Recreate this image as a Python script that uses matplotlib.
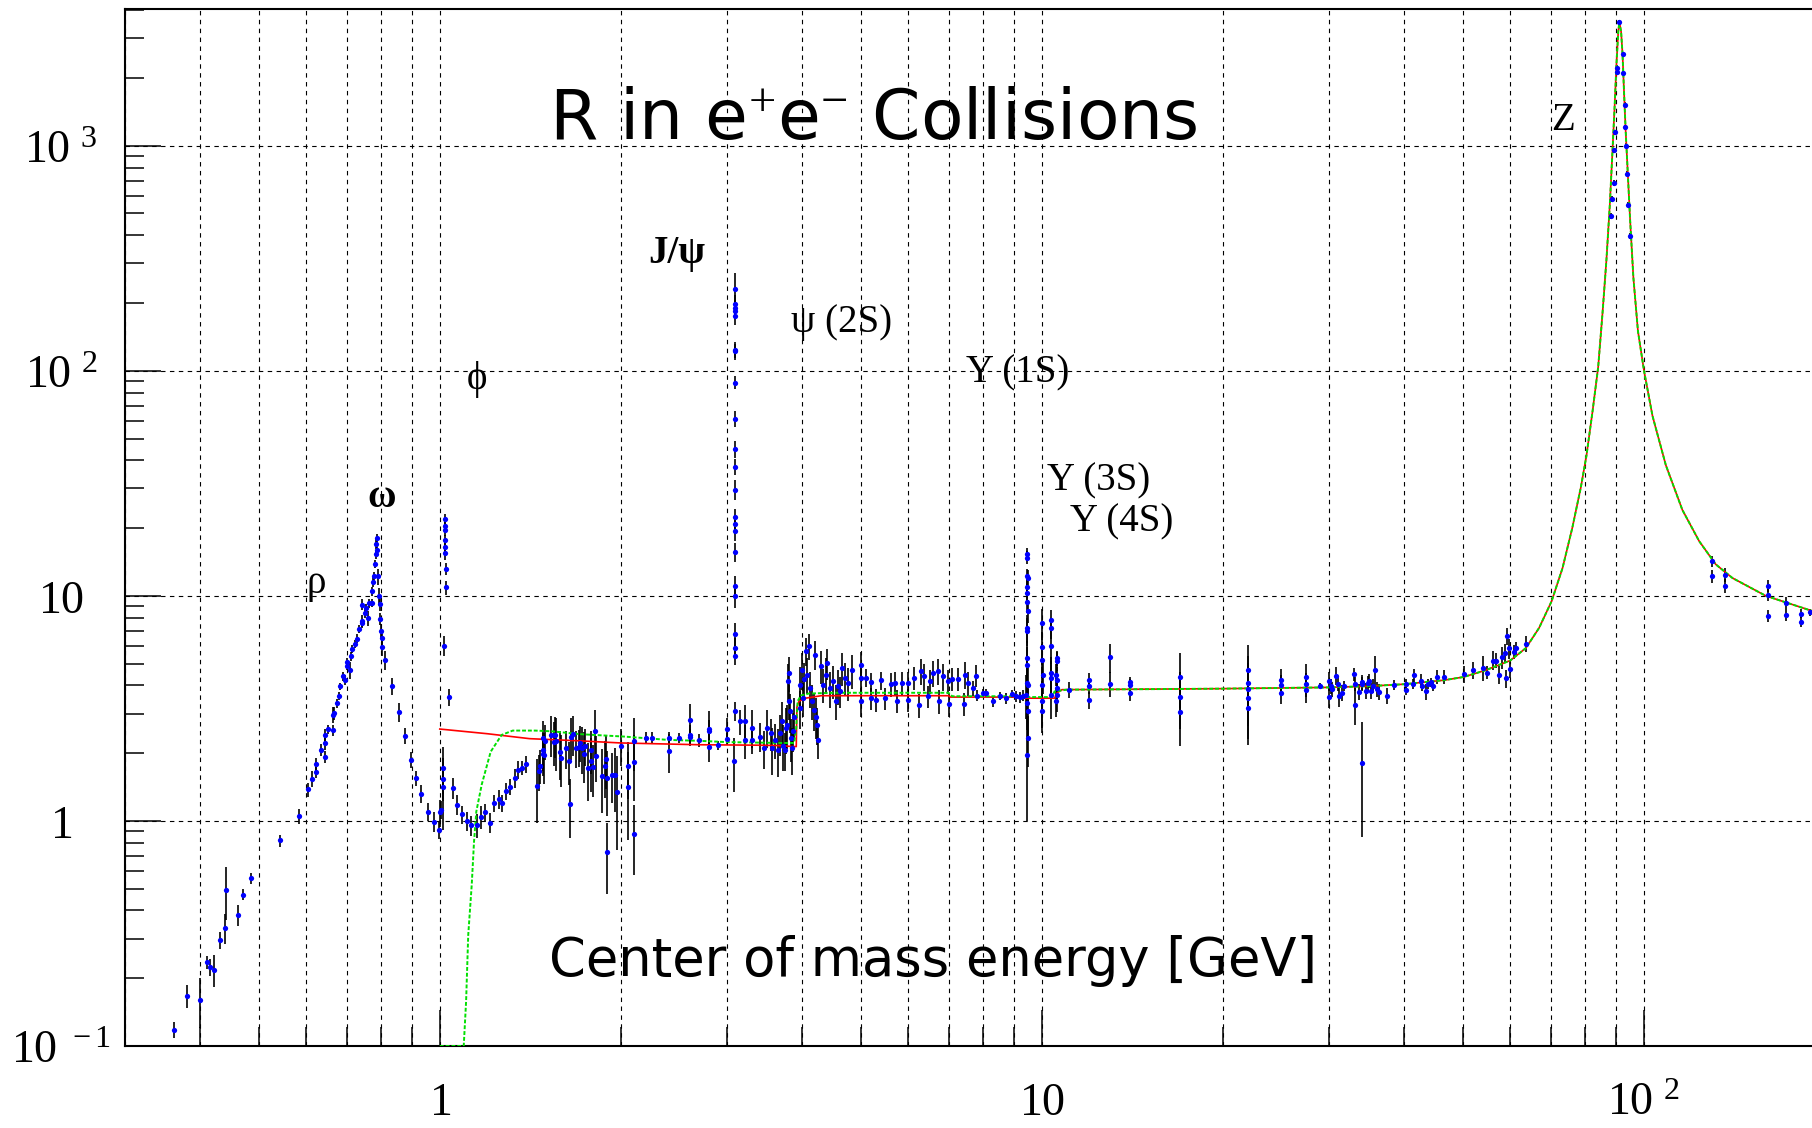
import matplotlib
matplotlib.use("Agg")
import matplotlib.pyplot as plt
import numpy as np
from matplotlib.ticker import FixedLocator, FixedFormatter, LogLocator, NullFormatter

# -----------------------------
# Data: (E [GeV], R, error on R)
# -----------------------------
rho_pts = [
    (0.362, 0.118, 0.01), (0.381, 0.167, 0.02), (0.400, 0.160, 0.04), (0.411, 0.235, 0.015),
    (0.416, 0.224, 0.02), (0.422, 0.218, 0.035), (0.432, 0.296, 0.025), (0.440, 0.334, 0.05),
    (0.441, 0.492, 0.13), (0.462, 0.382, 0.04), (0.471, 0.471, 0.025), (0.486, 0.556, 0.03),
    (0.543, 0.819, 0.05), (0.583, 1.05, 0.08), (0.605, 1.38, 0.1), (0.613, 1.54, 0.12),
    (0.623, 1.65, 0.1), (0.623, 1.79, 0.12), (0.634, 2.07, 0.12), (0.644, 1.93, 0.12),
    (0.644, 2.21, 0.15), (0.644, 2.41, 0.15), (0.652, 2.56, 0.12), (0.664, 2.53, 0.15),
    (0.664, 2.97, 0.25), (0.667, 3.02, 0.2), (0.675, 3.33, 0.15), (0.681, 3.60, 0.15),
    (0.683, 3.97, 0.15), (0.691, 4.39, 0.2), (0.695, 4.23, 0.2), (0.701, 4.89, 0.2),
    (0.702, 5.10, 0.2), (0.709, 4.66, 0.4), (0.712, 5.39, 0.25), (0.716, 5.80, 0.25),
    (0.722, 6.11, 0.25), (0.730, 6.45, 0.3), (0.733, 7.14, 0.3), (0.742, 7.72, 0.5),
    (0.744, 7.55, 0.3), (0.743, 9.14, 0.5), (0.751, 8.35, 0.4), (0.754, 8.83, 0.4),
    (0.761, 7.94, 0.6), (0.763, 9.25, 0.4), (0.771, 9.31, 0.4), (0.773, 10.5, 0.5),
    (0.776, 11.5, 0.6), (0.778, 12.2, 0.6), (0.780, 13.9, 0.6), (0.783, 15.3, 0.7),
    (0.785, 17.0, 0.8), (0.786, 18.0, 0.8), (0.788, 16.0, 0.8), (0.790, 12.2, 1.0),
    (0.793, 10.0, 0.8), (0.795, 9.2, 0.6), (0.797, 7.9, 0.5), (0.799, 7.0, 0.5),
    (0.801, 6.5, 0.5), (0.803, 5.9, 0.5), (0.812, 5.2, 0.5), (0.833, 3.97, 0.35),
    (0.855, 3.05, 0.3), (0.874, 2.39, 0.2), (0.895, 1.87, 0.15), (0.913, 1.55, 0.12),
    (0.932, 1.32, 0.12), (0.956, 1.10, 0.1), (0.977, 0.99, 0.1), (0.996, 0.907, 0.08),
    (1.000, 1.09, 0.15), (1.003, 1.12, 0.1),
]

phi_pts = [
    (1.012, 1.41, 0.5), (1.013, 1.53, 0.3), (1.014, 1.72, 0.4), (1.017, 6.0, 0.6),
    (1.019, 21.9, 1.2), (1.019, 20.5, 1.2), (1.020, 19.7, 1.2), (1.020, 17.7, 1.0),
    (1.021, 16.5, 1.0), (1.021, 15.5, 1.0), (1.023, 13.2, 0.8), (1.025, 10.9, 0.8),
    (1.034, 3.54, 0.3),
]

low_pts = [
    (1.051, 1.40, 0.15), (1.070, 1.18, 0.12), (1.090, 1.07, 0.10), (1.110, 1.00, 0.10),
    (1.129, 0.957, 0.10), (1.152, 0.957, 0.12), (1.171, 1.04, 0.12), (1.191, 1.09, 0.10),
    (1.211, 0.98, 0.10), (1.231, 1.20, 0.10), (1.252, 1.25, 0.12), (1.268, 1.20, 0.10),
    (1.289, 1.36, 0.12), (1.310, 1.42, 0.12), (1.332, 1.55, 0.15), (1.349, 1.69, 0.15),
    (1.372, 1.72, 0.12), (1.390, 1.79, 0.15), (1.448, 1.43, 0.45), (1.461, 1.66, 0.30),
    (1.465, 1.76, 0.30), (1.483, 1.98, 0.40), (1.485, 2.07, 0.40), (1.487, 2.34, 0.45),
    (1.490, 1.96, 0.50), (1.494, 2.26, 0.40), (1.531, 2.42, 0.50), (1.545, 2.25, 0.50),
    (1.555, 2.40, 0.50), (1.560, 2.26, 0.60), (1.586, 2.02, 0.50), (1.588, 1.91, 0.50),
    (1.620, 2.10, 0.40), (1.642, 1.84, 0.40), (1.645, 1.19, 0.35), (1.655, 2.37, 0.50),
    (1.665, 2.44, 0.50), (1.687, 2.11, 0.40), (1.705, 2.13, 0.40), (1.710, 2.23, 0.40),
    (1.720, 2.11, 0.50), (1.737, 1.98, 0.50), (1.740, 2.16, 0.40), (1.765, 1.72, 0.50),
    (1.780, 1.84, 0.50), (1.785, 2.07, 0.45), (1.800, 1.73, 0.45), (1.810, 2.51, 0.60),
    (1.820, 1.94, 0.45), (1.858, 1.58, 0.50), (1.880, 1.76, 0.50), (1.890, 1.88, 0.50),
    (1.893, 1.55, 0.50), (1.893, 0.725, 0.25), (1.929, 1.60, 0.40), (1.955, 1.60, 0.50),
    (1.970, 1.34, 0.60), (2.000, 2.15, 0.40), (2.053, 1.75, 0.50), (2.053, 1.42, 0.60),
    (2.106, 2.26, 0.60), (2.106, 1.82, 0.60), (2.106, 0.874, 0.30), (2.202, 2.34, 0.15),
    (2.250, 2.34, 0.15), (2.404, 2.34, 0.15), (2.404, 2.04, 0.40), (2.497, 2.34, 0.12),
    (2.602, 2.81, 0.50), (2.602, 2.42, 0.25), (2.602, 2.36, 0.20), (2.700, 2.28, 0.15),
    (2.805, 2.57, 0.50), (2.805, 2.50, 0.30), (2.805, 2.13, 0.30), (2.896, 2.17, 0.10),
    (3.000, 2.56, 0.30), (3.000, 2.32, 0.15),
]

jpsi_pts = [
    (3.097, 232, 40), (3.097, 198, 20), (3.097, 191, 15), (3.097, 185, 15), (3.097, 175, 15),
    (3.097, 124, 10), (3.097, 122, 10), (3.097, 88.7, 6), (3.097, 61.0, 5), (3.097, 44.9, 4),
    (3.097, 37.4, 3), (3.097, 29.6, 3), (3.097, 22.3, 2), (3.097, 20.8, 2), (3.097, 19.5, 2),
    (3.097, 15.7, 1.5), (3.097, 11.1, 1.2), (3.097, 10.0, 1.2), (3.098, 6.76, 0.8),
    (3.098, 5.89, 0.6), (3.099, 5.41, 0.5),
]

charm_pts = [
    (3.083, 1.84, 0.5), (3.098, 3.09, 0.3), (3.154, 2.77, 0.35), (3.208, 2.77, 0.5),
    (3.210, 2.28, 0.4), (3.300, 2.60, 0.5), (3.300, 2.28, 0.3), (3.400, 2.37, 0.35),
    (3.450, 2.10, 0.4), (3.500, 2.60, 0.5), (3.550, 2.45, 0.4), (3.570, 2.10, 0.5),
    (3.610, 2.29, 0.4), (3.650, 2.06, 0.5), (3.680, 2.45, 0.5), (3.700, 2.77, 0.6),
    (3.720, 2.16, 0.5), (3.740, 2.06, 0.4), (3.760, 2.58, 0.6), (3.780, 2.68, 0.6),
    (3.790, 4.17, 0.8), (3.800, 4.54, 0.8), (3.810, 3.40, 0.6), (3.820, 3.07, 0.6),
    (3.830, 2.33, 0.5), (3.850, 2.10, 0.5), (3.860, 2.52, 0.5), (3.880, 2.90, 0.6),
    (3.960, 4.03, 0.8), (3.970, 3.17, 0.6), (3.990, 4.70, 0.9), (4.010, 3.51, 0.6),
    (4.020, 4.25, 0.8), (4.060, 5.67, 0.8), (4.070, 4.47, 0.8), (4.100, 5.97, 0.8),
    (4.120, 3.89, 0.7), (4.150, 3.40, 0.6), (4.190, 3.12, 0.6), (4.200, 5.48, 0.8),
    (4.210, 2.91, 0.6), (4.240, 2.68, 0.5), (4.250, 2.29, 0.4), (4.290, 4.86, 0.8),
    (4.330, 4.03, 0.7), (4.380, 4.47, 0.8), (4.400, 5.03, 0.8), (4.450, 3.89, 0.7),
    (4.500, 4.17, 0.7), (4.550, 3.40, 0.6), (4.590, 3.96, 0.7), (4.620, 3.76, 0.6),
    (4.660, 4.78, 0.8), (4.720, 4.32, 0.7), (4.770, 4.10, 0.7), (4.840, 4.67, 0.8),
    (5.00, 4.95, 0.7), (5.00, 4.32, 0.6), (5.00, 3.40, 0.5), (5.10, 4.32, 0.4),
    (5.21, 4.13, 0.4), (5.21, 3.51, 0.4), (5.31, 3.46, 0.4), (5.41, 4.21, 0.4),
    (5.49, 3.51, 0.4), (5.61, 4.06, 0.5), (5.71, 4.10, 0.5), (5.75, 3.42, 0.4),
    (5.86, 4.10, 0.5), (6.00, 4.11, 0.5), (6.00, 3.44, 0.4), (6.14, 4.32, 0.5),
    (6.25, 3.26, 0.4), (6.30, 4.62, 0.6), (6.38, 4.39, 0.6), (6.48, 3.58, 0.4),
    (6.51, 4.17, 0.5), (6.59, 4.54, 0.6), (6.72, 4.62, 0.6), (6.76, 3.40, 0.4),
    (6.85, 4.39, 0.6), (6.98, 4.17, 0.5), (7.01, 3.31, 0.4), (7.09, 4.29, 0.5),
    (7.25, 4.29, 0.5), (7.42, 3.32, 0.4), (7.46, 4.47, 0.6), (7.54, 4.10, 0.5),
    (7.70, 3.89, 0.3), (7.78, 4.42, 0.5), (7.81, 3.60, 0.2), (7.98, 3.69, 0.15),
    (8.08, 3.69, 0.15), (8.29, 3.40, 0.2), (8.51, 3.58, 0.15), (8.71, 3.51, 0.2),
    (8.93, 3.68, 0.15), (9.07, 3.58, 0.2), (9.20, 3.55, 0.2), (9.30, 3.60, 0.2),
]

ups_pts = [
    (9.45, 15.3, 1.0), (9.46, 14.8, 1.0), (9.46, 12.2, 1.0), (9.47, 12.0, 1.0),
    (9.46, 11.0, 1.0), (9.45, 10.3, 1.0), (9.46, 9.4, 1.0), (9.47, 8.55, 1.0),
    (9.46, 7.2, 1.0), (9.44, 6.96, 1.0), (9.46, 5.3, 1.0), (9.45, 4.95, 1.0),
    (9.46, 4.10, 0.8), (9.47, 4.03, 0.8), (9.43, 3.64, 0.8), (9.45, 3.34, 0.8),
    (9.48, 3.07, 0.8), (9.47, 2.33, 0.6), (9.46, 1.97, 0.97),
    (10.02, 7.58, 1.2), (10.02, 5.91, 1.0), (10.02, 5.21, 0.9), (10.03, 4.47, 0.8),
    (10.02, 4.03, 0.8), (10.01, 3.40, 0.8), (10.02, 3.07, 0.6),
    (10.36, 7.85, 0.8), (10.36, 7.2, 0.8), (10.35, 5.97, 1.0), (10.36, 4.54, 0.8),
    (10.37, 4.31, 0.8), (10.36, 3.64, 0.8),
    (10.58, 5.3, 0.4), (10.58, 5.12, 0.5), (10.57, 4.47, 0.5), (10.58, 4.24, 0.6),
    (10.60, 3.90, 0.6), (10.58, 3.64, 0.6), (10.57, 3.40, 0.5),
]

cont_pts = [
    (11.1, 3.83, 0.3), (12.0, 4.24, 0.3), (12.0, 3.96, 0.3), (12.0, 3.43, 0.3),
    (13.0, 5.33, 0.8), (13.0, 4.07, 0.5), (14.0, 4.13, 0.25), (14.0, 4.03, 0.25),
    (14.0, 3.70, 0.3), (17.0, 4.36, 1.2), (17.0, 3.57, 1.0), (17.0, 3.05, 0.9),
    (22.0, 4.67, 1.4), (22.0, 4.10, 1.3), (22.0, 3.85, 1.2), (22.0, 3.52, 1.2),
    (22.0, 3.17, 1.0), (25.0, 4.24, 0.5), (25.0, 4.03, 0.4), (25.0, 3.72, 0.4),
    (27.5, 4.37, 0.6), (27.5, 4.06, 0.5), (27.5, 3.83, 0.5), (29.0, 3.98, 0.1),
    (30.0, 4.17, 0.4), (30.0, 3.56, 0.4), (30.2, 3.98, 0.3), (30.4, 3.86, 0.3),
    (30.8, 4.42, 0.4), (31.0, 4.06, 0.3), (31.2, 3.60, 0.4), (31.5, 3.72, 0.3),
    (31.8, 3.98, 0.2), (33.0, 4.49, 0.3), (33.1, 3.28, 0.6), (33.2, 4.06, 0.3),
    (33.7, 3.75, 0.3), (34.0, 4.13, 0.3), (34.0, 1.80, 0.95), (34.1, 4.06, 0.3),
    (34.5, 3.79, 0.3), (34.8, 4.09, 0.3), (35.0, 4.20, 0.3), (35.2, 3.79, 0.3),
    (35.5, 3.99, 0.3), (35.8, 4.70, 0.7), (36.1, 3.86, 0.3), (36.3, 3.75, 0.3),
    (37.5, 3.60, 0.3), (38.5, 4.03, 0.2), (40.2, 4.06, 0.2), (40.3, 3.83, 0.2),
    (41.3, 4.06, 0.2), (41.5, 4.45, 0.3), (42.6, 4.20, 0.3), (42.8, 3.99, 0.2),
    (43.5, 3.76, 0.3), (43.8, 4.06, 0.2), (44.3, 4.13, 0.2), (44.6, 3.99, 0.2),
    (45.4, 4.37, 0.3), (46.5, 4.36, 0.3), (50.2, 4.50, 0.4), (52.1, 4.67, 0.4),
    (54.0, 4.78, 0.6), (54.8, 4.56, 0.3), (56.2, 5.16, 0.5), (56.8, 5.16, 0.4),
    (57.4, 4.46, 0.4), (58.2, 5.35, 0.6), (58.9, 5.60, 0.5), (59.0, 4.30, 0.4),
    (59.2, 6.63, 0.6), (59.7, 5.86, 0.6), (59.9, 4.71, 0.4), (60.9, 5.65, 0.4),
    (61.3, 5.86, 0.4), (63.7, 6.14, 0.5),
]

zpk_pts = [
    (88.3, 488, 15), (88.4, 578, 18), (89.3, 955, 25), (89.4, 684, 20),
    (89.6, 1147, 30), (90.1, 2222, 50), (90.4, 2123, 50), (91.0, 3550, 80),
    (92.2, 2552, 60), (92.4, 2105, 50), (92.9, 1524, 40), (93.1, 1211, 30),
    (93.3, 1000, 25), (93.7, 750, 20), (94.3, 547, 15), (95.0, 398, 12),
]

lep2_pts = [
    (130.0, 14.3, 0.8), (130.0, 12.2, 0.8), (136.5, 12.4, 0.9), (136.5, 11.1, 0.8),
    (160.6, 11.1, 0.7), (160.6, 10.1, 0.6), (160.6, 8.15, 0.5), (172.2, 9.33, 0.6),
    (172.2, 8.26, 0.5), (182.3, 8.34, 0.4), (182.3, 7.64, 0.4), (188.7, 8.45, 0.3),
]

# theory curves (E, R)
red_low = [
    (1.0, 2.56), (1.2, 2.44), (1.41, 2.32), (1.7, 2.27), (2.0, 2.22), (2.7, 2.18),
    (3.4, 2.17), (3.7, 2.16), (3.85, 2.14), (3.91, 2.14), (3.92, 3.2), (3.95, 3.40),
    (4.05, 3.51), (4.3, 3.60), (7.0, 3.60), (7.05, 3.55), (9.0, 3.55), (9.3, 3.51),
    (10.5, 3.51), (10.6, 3.70), (10.8, 3.83),
]
green_low = [
    (1.0, 0.1), (1.096, 0.1), (1.106, 0.158), (1.115, 0.311), (1.13, 0.519),
    (1.14, 0.809), (1.15, 1.10), (1.174, 1.45), (1.215, 2.03), (1.267, 2.41),
    (1.322, 2.52), (1.44, 2.52), (1.54, 2.50), (1.707, 2.43), (2.024, 2.37),
    (2.40, 2.29), (2.69, 2.27), (3.0, 2.24), (3.7, 2.22), (3.88, 2.22), (3.91, 2.6),
    (3.93, 3.40), (3.98, 3.61), (4.1, 3.68), (4.5, 3.71), (7.0, 3.71), (7.1, 3.58),
    (9.3, 3.58), (9.4, 3.55), (10.4, 3.55), (10.5, 3.76), (11.0, 3.83),
]
z_curve = [
    (15.0, 3.85), (20.0, 3.87), (30.0, 3.92), (35.0, 3.97), (40.0, 4.05), (46.6, 4.22),
    (50.2, 4.36), (54.6, 4.67), (60.0, 5.16), (63.7, 5.86), (67.0, 7.2), (70.3, 9.47),
    (73.3, 13.3), (76.1, 20.1), (78.6, 30.3), (80.3, 41.8), (82.2, 65.9), (84.0, 104),
    (85.4, 180), (86.7, 312), (87.8, 540), (88.7, 933), (89.5, 1542), (90.1, 2327),
    (90.7, 3206), (91.1, 3548), (91.7, 3206), (92.2, 2552), (92.7, 1771), (93.3, 1172),
    (94.1, 743), (94.9, 471), (96.1, 260), (97.8, 150), (100.1, 100), (103.4, 63),
    (108.8, 38.1), (115.9, 24.1), (123.6, 17.5), (131.7, 13.8), (140.4, 12.0),
    (159.5, 10.0), (189.6, 8.6), (200.0, 8.3),
]

# resonance labels: text, E, R, weight
res_labels = [
    ("\u03c1", 0.601, 10.3, "normal"),
    ("\u03c9", 0.759, 24.8, "bold"),
    ("\u03d5", 1.109, 83.2, "normal"),
    ("J/\u03c8", 2.216, 300, "bold"),
    ("\u03c8 (2S)", 3.83, 148, "normal"),
    ("\u03a5 (1S)", 7.49, 88.8, "normal"),
    ("\u03a5 (3S)", 10.19, 29.3, "normal"),
    ("\u03a5 (4S)", 11.13, 19.3, "normal"),
    ("Z", 70.3, 1180, "normal"),
]

x_ticks = [1, 10, 100]
x_tick_labels = [r"$1$", r"$10$", r"$10^{\;\,2}$"]
y_ticks = [0.1, 1, 10, 100, 1000]
y_tick_labels = [r"$10^{\;\,-1}$", r"$1$", r"$10$", r"$10^{\;\,2}$", r"$10^{\;\,3}$"]

plt.rcParams.update({
    "font.family": "DejaVu Sans",
    "mathtext.fontset": "custom",
    "mathtext.rm": "Liberation Serif",
    "mathtext.it": "Liberation Serif:italic",
    "mathtext.bf": "Liberation Serif:bold",
})

SERIF = ["Liberation Serif", "DejaVu Serif"]


def main():
    fig = plt.figure(figsize=(18.12, 11.28), dpi=100)
    ax = fig.add_axes([0.06898, 0.0727, 0.99669, 0.91933])
    ax.set_xscale("log")
    ax.set_yscale("log")
    ax.set_xlim(0.3, 300)
    ax.set_ylim(0.1, 4050)

    # -----------------------------
    # Data points with error bars
    # -----------------------------
    for pts in (rho_pts, phi_pts, low_pts, jpsi_pts, charm_pts,
                ups_pts, cont_pts, zpk_pts, lep2_pts):
        e, r, err = np.array(pts).T
        ax.errorbar(e, r, yerr=err, fmt="none", ecolor="black",
                    elinewidth=1.2, capsize=0, zorder=2)
        ax.plot(e, r, "o", color="#0000ff", ms=3.8, mew=0, zorder=4)

    # -----------------------------
    # Curves
    # -----------------------------
    red_e, red_r = np.array(red_low + z_curve).T
    grn_e, grn_r = np.array(green_low + z_curve).T
    ax.plot(red_e, red_r, color="#ff0000", lw=1.2, zorder=3)
    ax.plot(grn_e, grn_r, color="#00e000", lw=1.4, ls=(0, (2, 1)), zorder=3.1)

    # -----------------------------
    # Axes, ticks, grid
    # -----------------------------
    ax.set_axisbelow(True)
    ax.grid(True, which="major", color="black", lw=0.8, ls=(0, (4, 4)))
    ax.xaxis.grid(True, which="minor", color="black", lw=0.8, ls=(0, (4, 4)))

    ax.xaxis.set_major_locator(FixedLocator(x_ticks))
    ax.xaxis.set_major_formatter(FixedFormatter(x_tick_labels))
    ax.xaxis.set_minor_locator(LogLocator(base=10, subs=np.arange(2, 10), numticks=20))
    ax.xaxis.set_minor_formatter(NullFormatter())
    ax.yaxis.set_major_locator(FixedLocator(y_ticks))
    ax.yaxis.set_major_formatter(FixedFormatter(y_tick_labels))
    ax.yaxis.set_minor_locator(LogLocator(base=10, subs=np.arange(2, 10), numticks=20))
    ax.yaxis.set_minor_formatter(NullFormatter())

    ax.tick_params(which="both", direction="in", top=False, right=False, width=1.1)
    ax.tick_params(which="major", length=26, labelsize=33)
    ax.tick_params(which="minor", length=14)
    ax.tick_params(axis="x", which="major", pad=50)
    ax.tick_params(axis="y", which="major", pad=46)
    for lab in ax.get_xticklabels():
        lab.set_va("baseline")
    for lab in ax.get_yticklabels():
        lab.set_ha("center")
        lab.set_va("center_baseline")

    for side in ("left", "bottom", "top"):
        ax.spines[side].set_linewidth(1.5)
    ax.spines["right"].set_visible(False)

    # -----------------------------
    # Text
    # -----------------------------
    ax.text(0.2348, 0.8747, r"R in e$^{+}$e$^{-}$ Collisions", transform=ax.transAxes,
            fontsize=50, ha="left", va="baseline")
    ax.text(0.2348, 0.0675, "Center of mass energy [GeV]", transform=ax.transAxes,
            fontsize=38, ha="left", va="baseline")
    for txt, e, r, wt in res_labels:
        ax.text(e, r, txt, fontsize=28, family=SERIF, fontweight=wt,
                ha="left", va="baseline")

    fig.savefig("out.png", dpi=100)


if __name__ == "__main__":
    main()
